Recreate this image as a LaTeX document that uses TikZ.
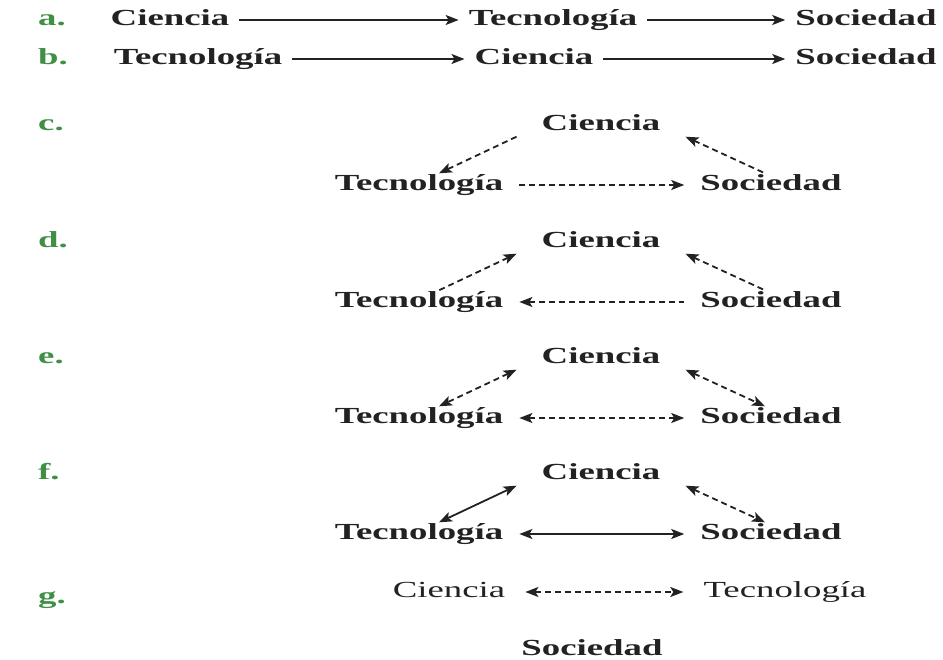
\documentclass[tikz,border=0pt]{standalone}
\usepackage{fontspec}
\setmainfont{Liberation Serif}[FakeStretch=1.6]
\usetikzlibrary{arrows.meta}
\definecolor{labgreen}{HTML}{3F8F45}
\definecolor{ink}{HTML}{222222}

\begin{document}
\begin{tikzpicture}[x=1pt,y=-1pt,
  every node/.style={font=\fontsize{23}{27}\selectfont\bfseries,text=ink,inner sep=0pt,text height=16pt,text depth=5pt},
  plain/.style={font=\fontsize{23}{27}\selectfont},
  lab/.style={text=labgreen,anchor=west},
  word/.style={inner xsep=10pt},
  apex/.style={inner xsep=25pt,inner ysep=1pt},
  base/.style={inner xsep=16pt,inner ysep=1pt},
  conn/.style={line width=1.8pt,draw=ink},
  fwd/.style={-{Stealth[length=13pt,width=10pt,inset=3pt]}},
  bwd/.style={{Stealth[length=13pt,width=10pt,inset=3pt]}-},
  bi/.style={{Stealth[length=13pt,width=10pt,inset=3pt]}-{Stealth[length=13pt,width=10pt,inset=3pt]}},
  dsh/.style={dash pattern=on 6pt off 4pt}]
\useasboundingbox (0,0) rectangle (943,660);
% a. and b.: straight chains
\node[lab] (la) at (38,20) {a.};
\node[word] (a1) at (170,20) {Ciencia};
\node[word] (a2) at (553,20) {Tecnología};
\node[word] (a3) at (866,20) {Sociedad};
\draw[conn,fwd] (a1) -- (a2);
\draw[conn,fwd] (a2) -- (a3);
\node[lab] (lb) at (38,59) {b.};
\node[word] (b1) at (198,59) {Tecnología};
\node[word] (b2) at (534,59) {Ciencia};
\node[word] (b3) at (866,59) {Sociedad};
\draw[conn,fwd] (b1) -- (b2);
\draw[conn,fwd] (b2) -- (b3);
% c. to f.: triangles, left/right/bottom edge styles
\foreach \r/\yc/\ls/\la/\rs/\ra/\bs/\ba in {c/125/dsh/fwd/dsh/bwd/dsh/fwd,d/242/dsh/bwd/dsh/bwd/dsh/bwd,e/358/dsh/bi/dsh/bi/dsh/bi,f/474/solid/bi/dsh/bi/solid/bi}{
  \node[lab] (l\r) at (38,\yc) {\r.};
  \node[apex] (c\r) at (601,\yc) {Ciencia};
  \node[base] (t\r) at (419,\yc+60) {Tecnología};
  \node[base] (s\r) at (771,\yc+60) {Sociedad};
  \draw[conn,\ls,\la] (c\r.south west) -- ([xshift=20pt]t\r.north);
  \draw[conn,\rs,\ra] (c\r.south east) -- ([xshift=-6pt]s\r.north);
  \draw[conn,\bs,\ba] (t\r) -- (s\r);}
% g.
\node[lab] (lg) at (38,598) {g.};
\node[plain,inner xsep=20pt] (g1) at (449,592) {Ciencia};
\node[plain,inner xsep=20pt] (g2) at (785,592) {Tecnología};
\node (g3) at (592,650) {Sociedad};
\draw[conn,dsh,bi] (g1) -- (g2);
\end{tikzpicture}
\end{document}
